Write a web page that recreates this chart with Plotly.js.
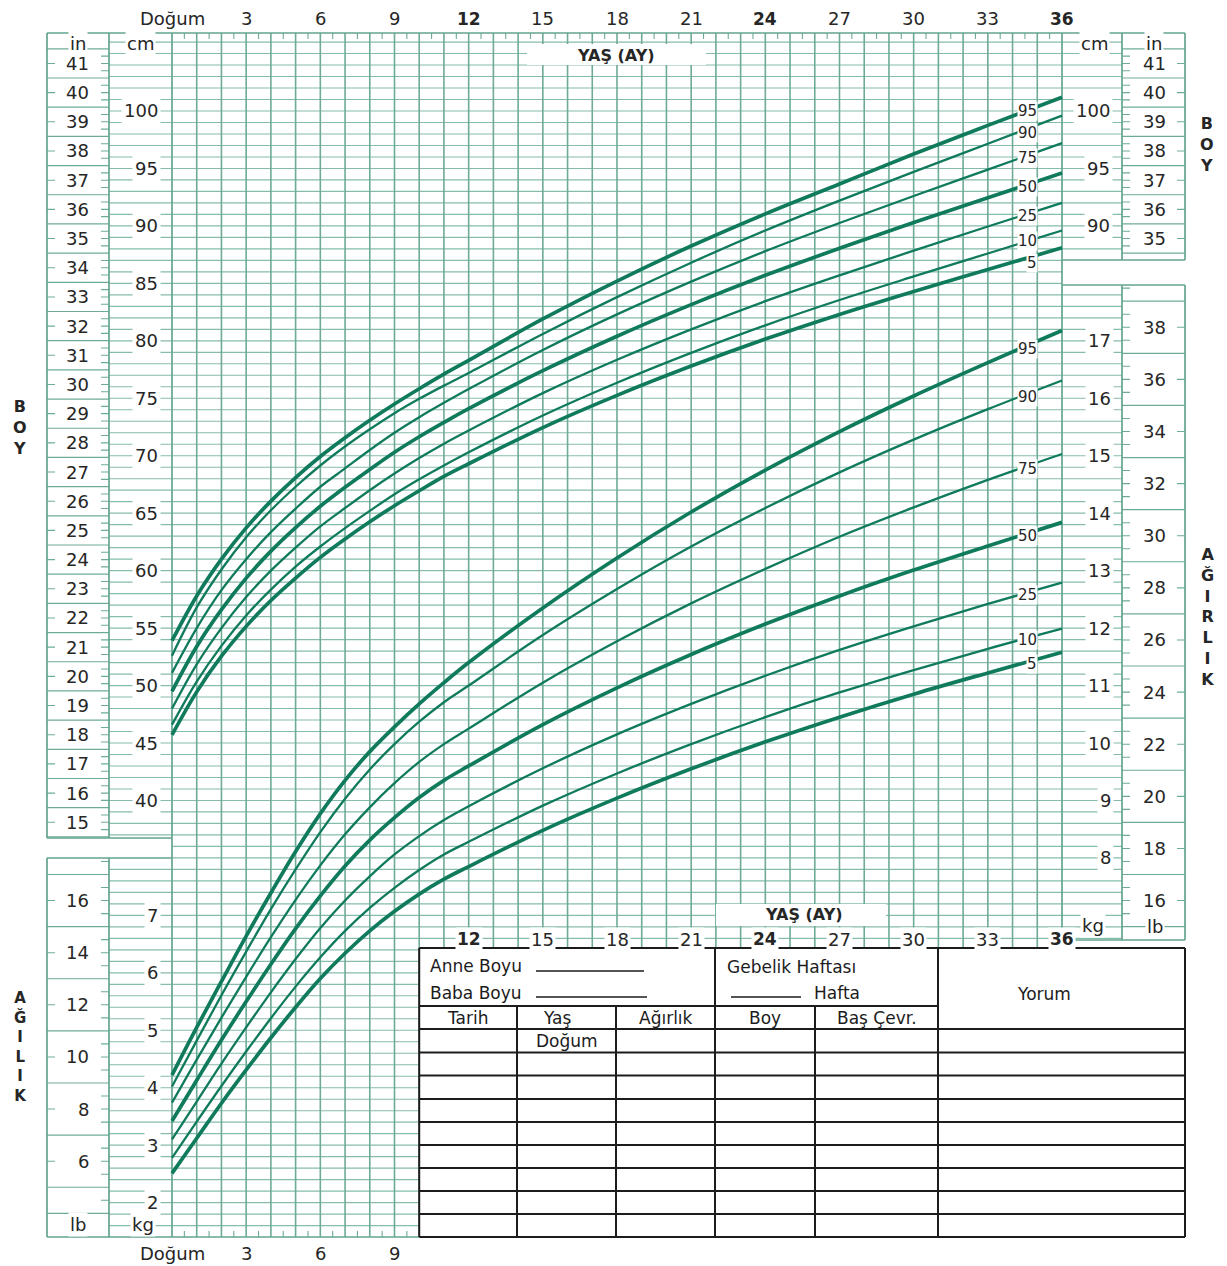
<!DOCTYPE html>
<html>
<head>
<meta charset="utf-8">
<script src="https://cdn.plot.ly/plotly-3.0.1.min.js"></script>
<style>
html,body{margin:0;padding:0;background:#ffffff;}
#chart{width:1227px;height:1266px;}
</style>
</head>
<body>
<div id="chart"></div>
<script>
// ---------------- DATA ----------------
const months = [0,1,2,3,4,5,6,7,8,9,10,11,12,15,18,21,24,27,30,33,36];
const percentiles = ['95','90','75','50','25','10','5'];

// Boy (length, cm)
const lengthP95 = [53.9,57.8,61.0,63.72,66.05,68.1,69.93,71.56,73.08,74.5,75.83,77.1,78.3,81.9,85.2,88.25,91.05,93.65,96.25,98.75,101.2];
const lengthP90 = [52.6,56.8,60.1,62.9,65.25,67.3,69.15,70.8,72.3,73.7,74.95,76.1,77.2,80.6,83.8,86.8,89.6,92.2,94.7,97.15,99.6];
const lengthP75 = [51.1,55.0,58.3,61.0,63.35,65.4,67.3,68.9,70.5,72.0,73.35,74.6,75.8,79.2,82.3,85.15,87.8,90.25,92.6,94.9,97.2];
const lengthP50 = [49.5,53.4,56.6,59.35,61.7,63.75,65.6,67.25,68.8,70.3,71.65,72.9,74.1,77.4,80.4,83.15,85.7,88.05,90.3,92.45,94.6];
const lengthP25 = [48.0,51.85,55.0,57.7,60.0,62.0,63.85,65.45,67.0,68.45,69.8,71.05,72.2,75.45,78.35,81.0,83.45,85.7,87.85,89.95,92.0];
const lengthP10 = [46.6,50.35,53.45,56.1,58.35,60.35,62.1,63.7,65.2,66.65,67.95,69.15,70.3,73.5,76.35,78.95,81.35,83.55,85.6,87.6,89.6];
const lengthP5  = [45.7,49.45,52.55,55.15,57.4,59.35,61.15,62.75,64.25,65.65,66.95,68.2,69.3,72.45,75.25,77.8,80.15,82.3,84.3,86.2,88.1];

// Ağırlık (weight, kg)
const weightP95 = [4.22,5.05,5.85,6.64,7.39,8.11,8.77,9.35,9.85,10.28,10.68,11.05,11.4,12.35,13.22,14.02,14.75,15.42,16.04,16.62,17.18];
const weightP90 = [4.02,4.82,5.61,6.37,7.11,7.80,8.45,9.03,9.54,9.98,10.37,10.71,11.0,11.88,12.68,13.42,14.09,14.71,15.28,15.81,16.31];
const weightP75 = [3.74,4.49,5.22,5.93,6.62,7.27,7.87,8.41,8.88,9.30,9.67,9.98,10.25,11.05,11.77,12.43,13.03,13.59,14.10,14.58,15.03];
const weightP50 = [3.42,4.13,4.83,5.50,6.15,6.77,7.34,7.86,8.31,8.70,9.05,9.35,9.6,10.32,10.96,11.54,12.07,12.56,13.01,13.43,13.84];
const weightP25 = [3.10,3.76,4.42,5.05,5.66,6.24,6.78,7.26,7.68,8.06,8.38,8.66,8.9,9.56,10.15,10.68,11.17,11.62,12.03,12.42,12.79];
const weightP10 = [2.78,3.41,4.03,4.63,5.21,5.76,6.27,6.73,7.13,7.48,7.79,8.06,8.28,8.91,9.47,9.98,10.45,10.88,11.27,11.64,11.99];
const weightP5  = [2.51,3.12,3.73,4.31,4.87,5.40,5.90,6.34,6.73,7.07,7.37,7.63,7.85,8.48,9.04,9.55,10.02,10.45,10.85,11.22,11.58];

// Tick labels
const topAgeValues = [0,3,6,9,12,15,18,21,24,27,30,33,36];
const topAgeLabels = ['Doğum','3','6','9','12','15','18','21','24','27','30','33','36'];
const boldAges = [12,24,36];
const bottomAgeValues = [0,3,6,9];
const bottomAgeLabels = ['Doğum','3','6','9'];
const midAgeValues = [12,15,18,21,24,27,30,33,36];
const midAgeLabels = ['12','15','18','21','24','27','30','33','36'];
const cmTicksLeft = [40,45,50,55,60,65,70,75,80,85,90,95,100];
const cmTicksRight = [90,95,100];
const inTicksLeft = [15,16,17,18,19,20,21,22,23,24,25,26,27,28,29,30,31,32,33,34,35,36,37,38,39,40,41];
const inTicksRight = [35,36,37,38,39,40,41];
const kgTicksLeft = [2,3,4,5,6,7];
const kgTicksRight = [8,9,10,11,12,13,14,15,16,17];
const lbTicksLeft = [6,8,10,12,14,16];
const lbTicksRight = [16,18,20,22,24,26,28,30,32,34,36,38];

// ---------------- GEOMETRY ----------------
const W = 1227, H = 1266;
const X0 = 172, PXM = (1062 - 172) / 36;
const Y100 = 111, PXCM = 632 / 55;
const mPx = m => X0 + m * PXM;
const cmPx = c => Y100 + (100 - c) * PXCM;
const kgPx = k => cmPx(5 * k - 5);
const inPx = i => cmPx(i * 2.54);
const lbPx = l => kgPx(l * 0.45359237);
const px = x => x / W;
const py = y => 1 - y / H;
const f = v => v.toFixed(5);
const seg = (x1, y1, x2, y2) => 'M' + f(px(x1)) + ',' + f(py(y1)) + 'L' + f(px(x2)) + ',' + f(py(y2));

const xRange = [-X0 / PXM, (W - X0) / PXM];
const yRange = [100 - (H - Y100) / PXCM, 100 + Y100 / PXCM];
const y2Range = [(yRange[0] + 5) / 5, (yRange[1] + 5) / 5];

const FONT = 'DejaVu Sans, Liberation Sans, Arial, sans-serif';
const TXT = '#262626';
const CURVE = '#107a5d';
const GRID_H = '#86bcab';
const GRID_V = '#6eab97';
const BORDER = '#64a58f';

const TOP = 33;
const LEFT_L_BOT = 838, LEFT_W_TOP = 858, BOT = 1237;
const RIGHT_L_BOT = 260, RIGHT_W_TOP = 285, RIGHT_W_BOT = 940;
const TABLE_TOP = 948, TABLE_LEFT = mPx(10), TABLE_RIGHT = 1185;

// ---------------- GRID SHAPES ----------------
const hParts = [];
for (let c = 106; c >= 3; c--) {
  const y = cmPx(c);
  if (y < TOP + 2 || y > BOT - 2) continue;
  const xEnd = (y < TABLE_TOP - 3) ? 1062 : TABLE_LEFT;
  let xStart = X0;
  if ((y <= LEFT_L_BOT) || (y >= LEFT_W_TOP)) xStart = 109;
  hParts.push(seg(xStart, y, xEnd, y));
  if ((y <= RIGHT_L_BOT) || (y >= RIGHT_W_TOP && y <= RIGHT_W_BOT)) hParts.push(seg(1062, y, 1122, y));
}
const vParts = [];
for (let m = 1; m <= 35; m++) {
  const x = mPx(m);
  vParts.push(seg(x, TOP, x, m <= 10 ? BOT : TABLE_TOP));
}
const sideParts = [];
for (let i = 14.5; i <= 41.5; i += 1) {
  const y = inPx(i);
  if (y > TOP && y <= LEFT_L_BOT + 1) sideParts.push(seg(47, y, 109, y));
  if (i >= 34.5 && y > TOP && y <= RIGHT_L_BOT) sideParts.push(seg(1122, y, 1185, y));
}
for (let l = 3; l <= 39; l += 2) {
  const y = lbPx(l);
  if (y > LEFT_W_TOP && y < BOT) sideParts.push(seg(47, y, 109, y));
  if (y > RIGHT_W_TOP && y < RIGHT_W_BOT) sideParts.push(seg(1122, y, 1185, y));
}
sideParts.push(seg(47, lbPx(4), 109, lbPx(4)));

const bParts = [
  seg(47, TOP, 1185, TOP),
  seg(47, TOP, 47, LEFT_L_BOT), seg(109, TOP, 109, LEFT_L_BOT), seg(47, LEFT_L_BOT, X0, LEFT_L_BOT),
  seg(47, LEFT_W_TOP, X0, LEFT_W_TOP), seg(47, LEFT_W_TOP, 47, BOT), seg(109, LEFT_W_TOP, 109, BOT),
  seg(47, BOT, TABLE_LEFT, BOT),
  seg(X0, TOP, X0, BOT), seg(1062, TOP, 1062, TABLE_TOP),
  seg(1122, TOP, 1122, RIGHT_L_BOT), seg(1185, TOP, 1185, RIGHT_L_BOT), seg(1062, RIGHT_L_BOT, 1185, RIGHT_L_BOT),
  seg(1062, RIGHT_W_TOP, 1185, RIGHT_W_TOP), seg(1122, RIGHT_W_TOP, 1122, RIGHT_W_BOT),
  seg(1185, RIGHT_W_TOP, 1185, RIGHT_W_BOT), seg(1062, RIGHT_W_BOT, 1185, RIGHT_W_BOT)
];

const tParts = [];
for (let m = 0.5; m < 36; m += 1) tParts.push(seg(mPx(m), TOP, mPx(m), TOP + 6));
for (let m = 0.5; m < 10; m += 1) tParts.push(seg(mPx(m), BOT - 6, mPx(m), BOT));
inTicksLeft.forEach(i => {
  tParts.push(seg(47, inPx(i), 55, inPx(i)));
  [i - 0.25, i, i + 0.25].forEach(q => tParts.push(seg(101, inPx(q), 109, inPx(q))));
});
inTicksRight.forEach(i => {
  tParts.push(seg(1177, inPx(i), 1185, inPx(i)));
  [i - 0.25, i, i + 0.25].forEach(q => { if (inPx(q) < RIGHT_L_BOT) tParts.push(seg(1122, inPx(q), 1130, inPx(q))); });
});
lbTicksLeft.forEach(l => tParts.push(seg(47, lbPx(l), 55, lbPx(l))));
lbTicksRight.forEach(l => tParts.push(seg(1177, lbPx(l), 1185, lbPx(l))));
for (let l = 4.5; l <= 39.5; l += 0.5) {
  if (Math.abs(l % 2) === 1) continue;
  const y = lbPx(l);
  if (y > LEFT_W_TOP + 2 && y < lbPx(4) - 2) tParts.push(seg(101, y, 109, y));
  if (y > RIGHT_W_TOP + 2 && y < RIGHT_W_BOT - 2) tParts.push(seg(1122, y, 1130, y));
}

const rowYs = [1029, 1052.5, 1075.5, 1099, 1122, 1145, 1168, 1191, 1214];
const tabParts = [
  seg(TABLE_LEFT, TABLE_TOP, TABLE_RIGHT, TABLE_TOP),
  seg(TABLE_LEFT, TABLE_TOP, TABLE_LEFT, BOT),
  seg(TABLE_RIGHT, TABLE_TOP, TABLE_RIGHT, BOT),
  seg(TABLE_LEFT, BOT, TABLE_RIGHT, BOT),
  seg(715, TABLE_TOP, 715, BOT), seg(938, TABLE_TOP, 938, BOT),
  seg(517, 1006, 517, BOT), seg(616, 1006, 616, BOT), seg(815, 1006, 815, BOT),
  seg(TABLE_LEFT, 1006, 938, 1006)
];
rowYs.forEach(y => tabParts.push(seg(TABLE_LEFT, y, TABLE_RIGHT, y)));
const ulParts = [seg(536, 971, 644, 971), seg(536, 997, 647, 997), seg(731, 997, 801, 997)];

const pathShape = (parts, color, width) => ({type: 'path', xref: 'paper', yref: 'paper', path: parts.join(''), line: {color: color, width: width}, fillcolor: 'rgba(0,0,0,0)', layer: 'below'});
const rectShape = (x1, y1, x2, y2) => ({type: 'rect', xref: 'paper', yref: 'paper', x0: px(x1), x1: px(x2), y0: py(y2), y1: py(y1), fillcolor: '#ffffff', line: {width: 0}, layer: 'below'});

const shapes = [
  pathShape(hParts, GRID_H, 1.15),
  pathShape(vParts, GRID_V, 1.6),
  pathShape(sideParts, GRID_V, 1.2),
  pathShape(tParts, GRID_V, 1.1),
  pathShape(bParts, BORDER, 1.7),
  rectShape(527, 44, 706, 65),
  rectShape(716, 904, 886, 926),
  rectShape(TABLE_LEFT, TABLE_TOP, TABLE_RIGHT, BOT),
  pathShape(tabParts, '#1c1c1c', 2),
  pathShape(ulParts, '#1c1c1c', 1.3)
];

// ---------------- ANNOTATIONS ----------------
const annotations = [];
function ann(x, y, text, opts) {
  const a = {xref: 'paper', yref: 'paper', x: px(x), y: py(y), text: text, showarrow: false,
    xanchor: 'center', yanchor: 'middle', font: {family: FONT, size: 18, color: TXT}};
  annotations.push(Object.assign(a, opts || {}));
}
topAgeValues.forEach((m, i) => {
  const b = boldAges.includes(m);
  ann(mPx(m), 19, b ? '<b>' + topAgeLabels[i] + '</b>' : topAgeLabels[i],
    {font: {family: FONT, size: b ? 17 : 18, color: TXT}});
});
bottomAgeValues.forEach((m, i) => ann(mPx(m), 1253, bottomAgeLabels[i]));
midAgeValues.forEach((m, i) => {
  const b = boldAges.includes(m);
  ann(mPx(m), 939, b ? '<b>' + midAgeLabels[i] + '</b>' : midAgeLabels[i],
    {bgcolor: '#ffffff', borderpad: 1, font: {family: FONT, size: b ? 17 : 18, color: TXT}});
});
inTicksLeft.forEach(v => ann(91, inPx(v), String(v), {xanchor: 'right'}));
inTicksRight.forEach(v => ann(1154, inPx(v), String(v)));
cmTicksLeft.forEach(v => ann(161, cmPx(v), String(v), {xanchor: 'right', bgcolor: '#ffffff', borderpad: 2}));
cmTicksRight.forEach(v => ann(1113, cmPx(v), String(v), {xanchor: 'right', bgcolor: '#ffffff', borderpad: 2}));
kgTicksLeft.forEach(v => ann(161, kgPx(v), String(v), {xanchor: 'right', bgcolor: '#ffffff', borderpad: 2}));
kgTicksRight.forEach(v => ann(1114, kgPx(v), String(v), {xanchor: 'right', bgcolor: '#ffffff', borderpad: 2}));
lbTicksLeft.forEach(v => ann(91, lbPx(v), String(v), {xanchor: 'right'}));
lbTicksRight.forEach(v => ann(1154, lbPx(v), String(v)));
ann(78, 43, 'in', {bgcolor: '#ffffff', borderpad: 1});
ann(140, 43, 'cm', {bgcolor: '#ffffff', borderpad: 1});
ann(1094, 43, 'cm', {bgcolor: '#ffffff', borderpad: 1});
ann(1154, 43, 'in', {bgcolor: '#ffffff', borderpad: 1});
ann(78, 1224, 'lb', {bgcolor: '#ffffff', borderpad: 1});
ann(143, 1224, 'kg', {bgcolor: '#ffffff', borderpad: 1});
ann(1093, 925, 'kg', {bgcolor: '#ffffff', borderpad: 1});
ann(1155, 926, 'lb', {bgcolor: '#ffffff', borderpad: 1});
ann(616, 55, '<b>YAŞ (AY)</b>', {font: {family: FONT, size: 16, color: TXT}});
ann(804, 914, '<b>YAŞ (AY)</b>', {font: {family: FONT, size: 16, color: TXT}});
ann(20, 428, '<b>B<br>O<br>Y</b>', {font: {family: FONT, size: 16, color: TXT}});
ann(1207, 145, '<b>B<br>O<br>Y</b>', {font: {family: FONT, size: 16, color: TXT}});
ann(1207, 617, '<b>A<br>Ğ<br>I<br>R<br>L<br>I<br>K</b>', {font: {family: FONT, size: 16, color: TXT}});
ann(20, 1047, '<b>A<br>Ğ<br>I<br>L<br>I<br>K</b>', {font: {family: FONT, size: 15, color: TXT}});
const tf = {family: FONT, size: 17, color: '#1c1c1c'};
ann(428, 966, 'Anne Boyu', {xanchor: 'left', font: tf});
ann(428, 993, 'Baba Boyu', {xanchor: 'left', font: tf});
ann(725, 967, 'Gebelik Haftası', {xanchor: 'left', font: tf});
ann(812, 993, 'Hafta', {xanchor: 'left', font: tf});
ann(1044, 994, 'Yorum', {font: tf});
ann(467, 1018, 'Tarih', {font: tf});
ann(557, 1018, 'Yaş', {font: tf});
ann(666, 1018, 'Ağırlık', {font: tf});
ann(765, 1018, 'Boy', {font: tf});
ann(877, 1018, 'Baş Çevr.', {font: tf});
ann(567, 1041, 'Doğum', {font: tf});

function valueAt(arr, m) {
  for (let i = 0; i < months.length - 1; i++) {
    if (m >= months[i] && m <= months[i + 1]) {
      const t = (m - months[i]) / (months[i + 1] - months[i]);
      return arr[i] + t * (arr[i + 1] - arr[i]);
    }
  }
  return arr[arr.length - 1];
}
const lengthSeries = [lengthP95, lengthP90, lengthP75, lengthP50, lengthP25, lengthP10, lengthP5];
const weightSeries = [weightP95, weightP90, weightP75, weightP50, weightP25, weightP10, weightP5];
const labelMonth = (1038 - X0) / PXM;
const lengthLabelShift = {'95': 2, '90': -1, '75': 0, '50': 0, '25': 0, '10': 3, '5': -3};
percentiles.forEach((p, i) => {
  [[lengthSeries[i], 'y', lengthLabelShift[p]], [weightSeries[i], 'y2', 0]].forEach(([arr, yr, sh]) => {
    annotations.push({xref: 'x', yref: yr, x: labelMonth, y: valueAt(arr, 34.3), text: p, yshift: sh,
      showarrow: false, xanchor: 'right', yanchor: 'middle', bgcolor: '#ffffff', borderpad: 0,
      font: {family: FONT, size: 15, color: TXT}});
  });
});

// ---------------- TRACES ----------------
const thick = {'95': true, '50': true, '5': true};
const traces = [];
percentiles.forEach((p, i) => {
  traces.push({type: 'scatter', mode: 'lines', name: 'Boy P' + p, x: months, y: lengthSeries[i], yaxis: 'y',
    line: {color: CURVE, width: thick[p] ? 3.7 : 2.3, shape: 'spline', smoothing: 1},
    hoverinfo: 'skip', showlegend: false});
  traces.push({type: 'scatter', mode: 'lines', name: 'Ağırlık P' + p, x: months, y: weightSeries[i], yaxis: 'y2',
    line: {color: CURVE, width: thick[p] ? 3.7 : 2.3, shape: 'spline', smoothing: 1},
    hoverinfo: 'skip', showlegend: false});
});

const layout = {
  width: W, height: H,
  margin: {l: 0, r: 0, t: 0, b: 0, pad: 0},
  paper_bgcolor: '#ffffff', plot_bgcolor: 'rgba(0,0,0,0)',
  showlegend: false,
  xaxis: {range: xRange, visible: false, fixedrange: true, domain: [0, 1]},
  yaxis: {range: yRange, visible: false, fixedrange: true, domain: [0, 1]},
  yaxis2: {range: y2Range, visible: false, fixedrange: true, overlaying: 'y'},
  shapes: shapes,
  annotations: annotations
};

Plotly.newPlot('chart', traces, layout, {staticPlot: true, displayModeBar: false});
</script>
</body>
</html>
